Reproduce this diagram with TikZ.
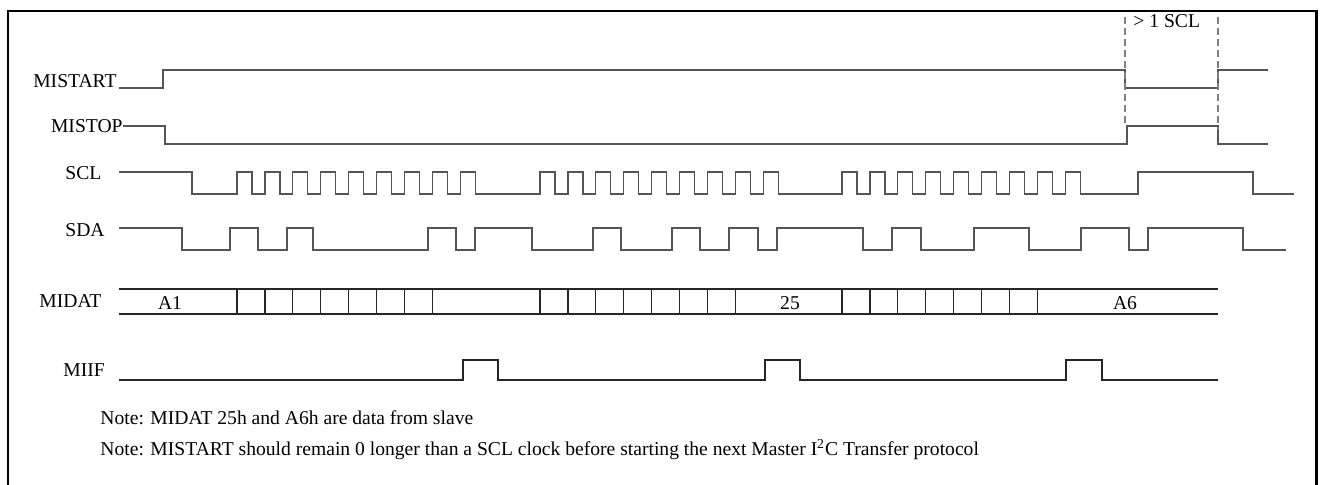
\documentclass[tikz,border=0pt]{standalone}
\usepackage{fontspec}
\setmainfont{Liberation Serif}
\usepackage{tikz}
\definecolor{wavegray}{RGB}{85,85,85}

\begin{document}
\begin{tikzpicture}[x=0.5pt,y=-0.5pt,
  font=\fontsize{9.8}{12}\selectfont, every node/.style={inner sep=0pt},
  wave/.style={line width=0.6pt, wavegray},
  bus/.style={line width=0.6pt, black!85},
  marker/.style={line width=0.6pt, gray, dash pattern=on 3.5pt off 2pt}]
\useasboundingbox (0,0) rectangle (1322,485);
\draw[line width=1.2pt] (8,485) |- (1316.5,11) -- (1316.5,485);
% signal names
\node[anchor=base east] (mistart) at (117,88) {MISTART};
\node[anchor=east] (mistop) at (123,126) {MISTOP};
\node[anchor=west] (scl) at (65,173) {SCL};
\node[anchor=west] (sda) at (65,230) {SDA};
\node[anchor=base west] (midat) at (39,308) {MIDAT};
\node[anchor=base west] (miif) at (63,377) {MIIF};
% control lines
\draw[wave] (119,88) -| (163,70) -| (1125,88) -| (1218,70) -- (1268,70);
\draw[wave] (123,126) -| (165,144) -| (1127,126) -| (1218,144) -- (1268,144);
\draw[marker] (1125,17) -- (1125,126);
\draw[marker] (1218,17) -- (1218,130);
\node[anchor=base west] (gap) at (1133,28) {> 1 SCL};
% SCL and SDA
\draw[wave] (119,172) -| (192,194)
  \foreach \k in {0,...,8} {-- ({237+27.9*\k},194) -- ++(0,-22) -- ++(15,0) -- ++(0,22)}
  \foreach \k in {0,...,8} {-- ({540+27.9*\k},194) -- ++(0,-22) -- ++(15,0) -- ++(0,22)}
  \foreach \k in {0,...,8} {-- ({842+27.9*\k},194) -- ++(0,-22) -- ++(15,0) -- ++(0,22)}
  -| (1138,172) -| (1253,194) -- (1294,194);
\draw[wave] (119,228) -| (182,250) -| (230,228) -| (258,250) -| (287,228) -| (313,250)
  -| (428,228) -| (456,250) -| (475,228) -| (532,250) -| (593,228) -| (621,250)
  -| (672,228) -| (700,250) -| (729,228) -| (758,250) -| (777,228) -| (863,250)
  -| (892,228) -| (921,250) -| (974,228) -| (1029,250) -| (1081,228) -| (1129,250)
  -| (1148,228) -| (1243,250) -- (1286,250);
% MIDAT bus
\draw[bus] (119,289) -- (1218,289) (119,314) -- (1218,314);
\foreach \s in {237,540,842}
  \foreach \k in {0,...,7}
    \draw[bus] ({\s+27.9*\k},289) -- ++(0,25);
\node[anchor=base] (a1) at (170,310) {A1};
\node[anchor=base] (d25) at (790,310) {25};
\node[anchor=base] (a6) at (1125,310) {A6};
% MIIF
\draw[bus] (119,380) -| (463,360) -| (498,380) -| (765,360) -| (800,380) -| (1066,360) -| (1102,380) -- (1218,380);
% notes
\node[anchor=base west] (note1) at (100,425) {Note: MIDAT 25h and A6h are data from slave};
\node[anchor=base west] (note2) at (100,456) {Note: MISTART should remain 0 longer than a SCL clock before starting the next Master I\textsuperscript{2}C Transfer protocol};
\end{tikzpicture}
\end{document}
